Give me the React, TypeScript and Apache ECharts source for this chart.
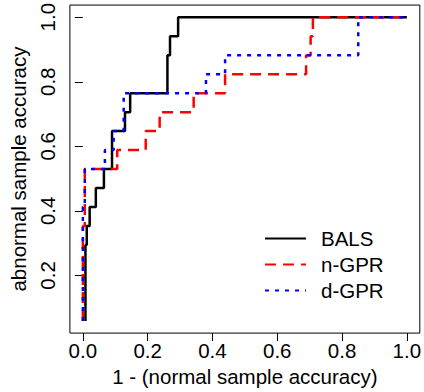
import React, { useEffect, useRef } from "react";
import * as echarts from "echarts";

const N_ABNORMAL = 17;
const seriesNames = ["BALS", "n-GPR", "d-GPR"];

// ROC corner points: false-positive rate (1 - normal accuracy) and detected abnormal count
const balsFpr = [0.008, 0.008, 0.012, 0.021, 0.04, 0.065, 0.09, 0.13, 0.146, 0.261, 0.269, 0.294, 1.0];
const balsHits = [1, 5, 6, 7, 8, 9, 11, 12, 13, 15, 16, 17, 17];

const nGprFpr = [0.0, 0.0, 0.006, 0.106, 0.194, 0.237, 0.342, 0.439, 0.689, 0.703, 0.71, 1.0];
const nGprHits = [1, 6, 9, 10, 11, 12, 13, 14, 15, 16, 17, 17];

const dGprFpr = [0.0, 0.0, 0.006, 0.068, 0.095, 0.126, 0.38, 0.439, 0.85, 1.0];
const dGprHits = [1, 7, 9, 10, 11, 13, 14, 15, 17, 17];

const xTicks = [0, 0.2, 0.4, 0.6, 0.8, 1.0];
const yTicks = [0.2, 0.4, 0.6, 0.8, 1.0];

const FONT = "'Liberation Sans', Arial, Helvetica, sans-serif";
const FS = 20.5;

function toPairs(fpr: number[], hits: number[]) {
  return fpr.map((x, i) => [x, hits[i] / N_ABNORMAL]);
}

export default function App() {
  const ref = useRef<HTMLDivElement>(null);
  useEffect(() => {
    if (!ref.current) return;
    const chart = echarts.init(ref.current, undefined, { renderer: "svg" });
    const yMinData = 1 / N_ABNORMAL;
    const yPad = 0.04 * (1 - yMinData);
    const lineCommon = { type: "line" as const, step: "end" as const, symbol: "none", silent: true };
    chart.setOption({
      animation: false,
      backgroundColor: "#ffffff",
      textStyle: { fontFamily: FONT },
      grid: {
        left: 67,
        top: 3,
        right: 4,
        bottom: 58,
        show: true,
        borderColor: "#000",
        borderWidth: 1,
        backgroundColor: "transparent",
      },
      legend: {
        data: seriesNames,
        orient: "vertical",
        left: 259,
        top: 223,
        itemWidth: 41,
        itemHeight: 20,
        itemGap: 5,
        itemStyle: { opacity: 0 },
        textStyle: { fontSize: FS, color: "#000", fontFamily: FONT, padding: [0, 0, 0, 10] },
      },
      xAxis: {
        type: "value",
        min: -0.04,
        max: 1.04,
        name: "1 - (normal sample accuracy)",
        nameLocation: "middle",
        nameGap: 30,
        nameTextStyle: { fontSize: FS, color: "#000", fontFamily: FONT },
        axisLine: { show: false },
        splitLine: { show: false },
        axisTick: { show: true, length: 8, inside: false, customValues: xTicks, lineStyle: { color: "#000" } },
        axisLabel: {
          customValues: xTicks,
          fontSize: FS,
          color: "#000",
          margin: 7,
          fontFamily: FONT,
          formatter: (v: number) => v.toFixed(1),
        },
      },
      yAxis: {
        type: "value",
        min: yMinData - yPad,
        max: 1 + yPad,
        name: "abnormal sample accuracy",
        nameLocation: "middle",
        nameGap: 33,
        nameTextStyle: { fontSize: FS, color: "#000", fontFamily: FONT },
        axisLine: { show: false },
        splitLine: { show: false },
        axisTick: { show: true, length: 8, inside: false, customValues: yTicks, lineStyle: { color: "#000" } },
        axisLabel: {
          customValues: yTicks,
          fontSize: FS,
          color: "#000",
          rotate: 90,
          margin: 12,
          fontFamily: FONT,
          formatter: (v: number) => v.toFixed(1),
        },
      },
      series: [
        {
          ...lineCommon,
          name: seriesNames[0],
          data: toPairs(balsFpr, balsHits),
          color: "#000000",
          lineStyle: { color: "#000000", width: 2.5, type: "solid" },
        },
        {
          ...lineCommon,
          name: seriesNames[1],
          data: toPairs(nGprFpr, nGprHits),
          color: "#ff0000",
          lineStyle: { color: "#ff0000", width: 2.5, type: [11, 7] },
        },
        {
          ...lineCommon,
          name: seriesNames[2],
          data: toPairs(dGprFpr, dGprHits),
          color: "#0000ff",
          lineStyle: { color: "#0000ff", width: 2.5, type: [4, 6] },
        },
      ],
    });
    return () => chart.dispose();
  }, []);
  return <div ref={ref} style={{ width: 424, height: 392, position: "absolute", left: 0, top: 0 }} />;
}
